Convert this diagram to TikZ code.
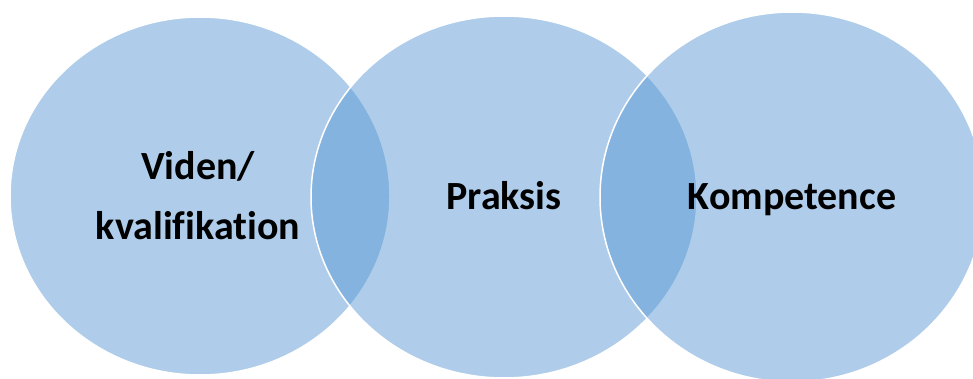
\documentclass[tikz,border=0pt]{standalone}
\usepackage{fontspec}
\setmainfont{Carlito}[Ligatures=NoCommon]
\usepackage {tikz}
\usetikzlibrary {shapes.geometric}
\definecolor {vennblue}{RGB}{87,151,211}

\begin{document}
\begin{tikzpicture}[x=1pt,y=-1pt]
  \tikzstyle{ring}=[ellipse, inner sep=0pt, fill=vennblue, fill opacity=0.48,
draw=white, draw opacity=1, line width=1.5pt]
  \tikzstyle{word}=[inner sep=0pt, text=black, align=center,
font=\bfseries\fontsize{40}{60}\selectfont]
  \useasboundingbox (0,0) rectangle (973,379);

  \node[ring, minimum width=380pt, minimum height=358pt] (C_1) at (200,196) {};
  \node[ring, minimum width=386pt, minimum height=362pt] (C_2) at (504,197) {};
  \node[ring, minimum width=384pt, minimum height=370pt] (C_3) at (792,197) {};

  \node[word] (T_1) at (198,196) {Viden/\\kvalifikation};
  \node[word, anchor=base] (T_2) at (504,210) {Praksis};
  \node[word, anchor=base] (T_3) at (792,210) {Kompetence};
\end{tikzpicture}
\end{document}
